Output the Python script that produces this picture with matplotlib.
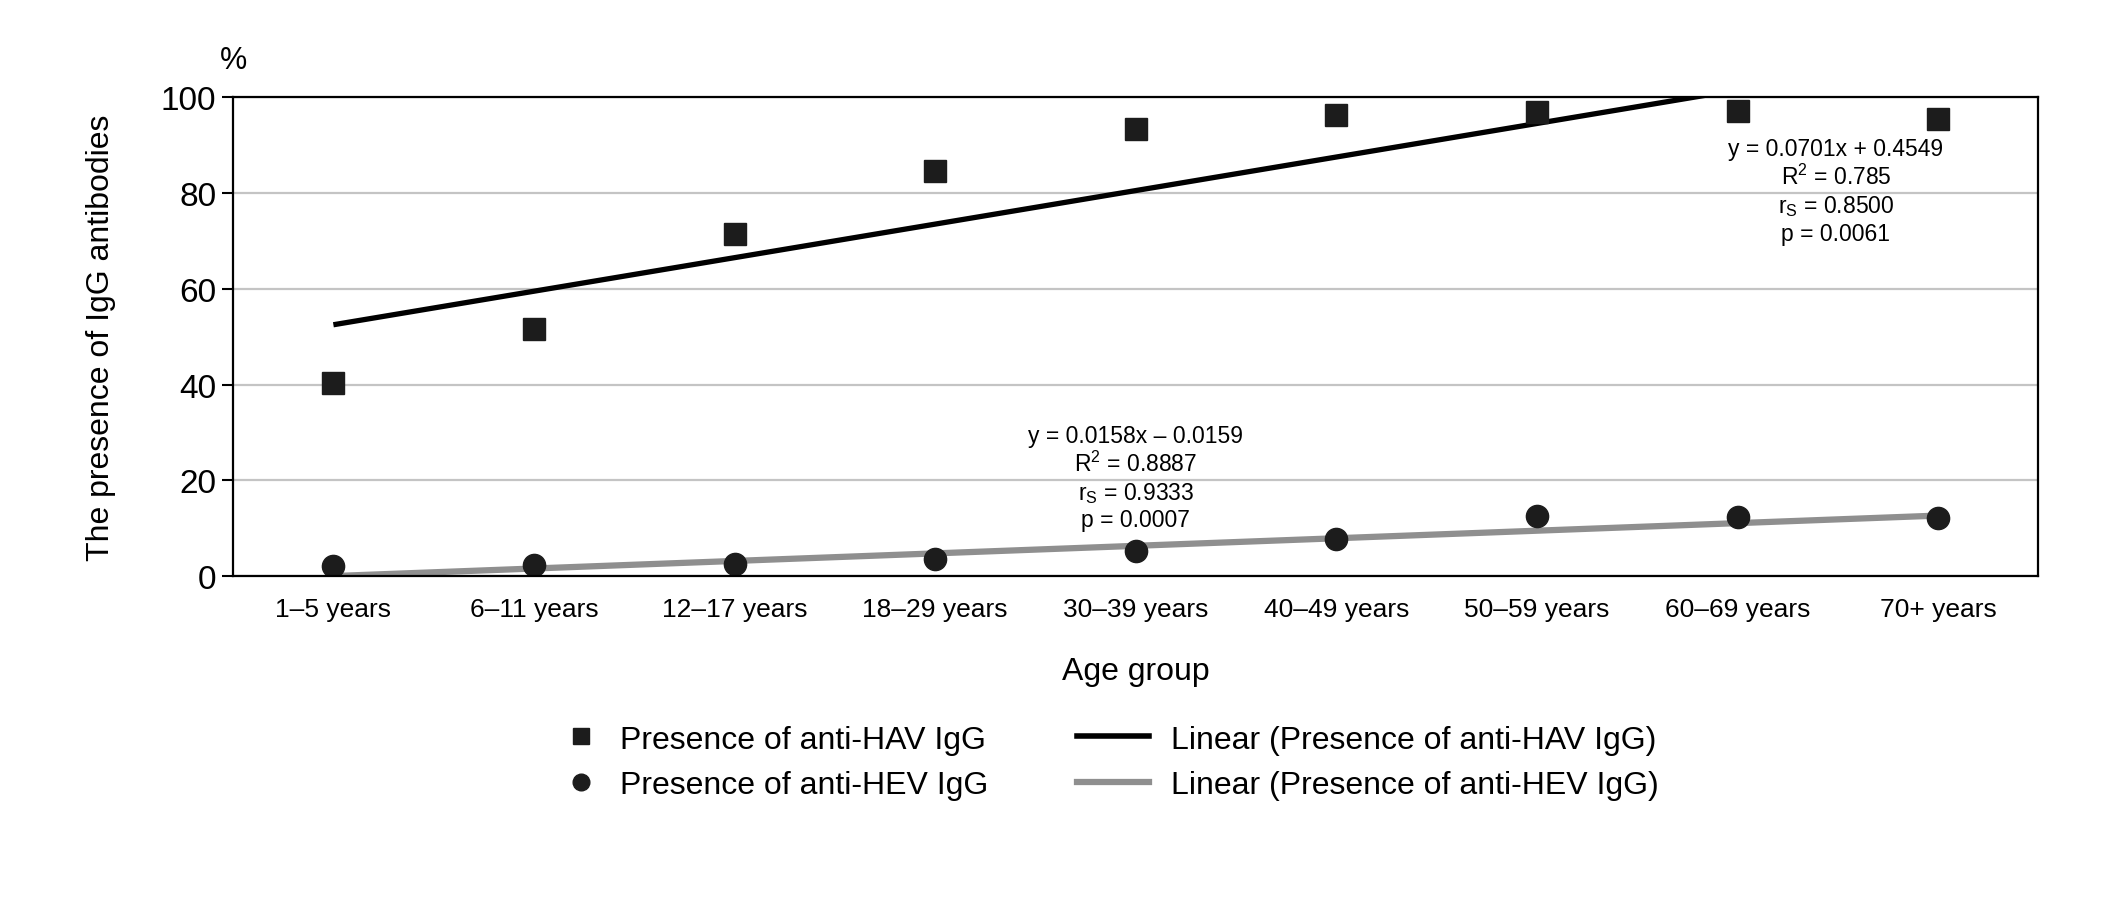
import numpy as np
import matplotlib.pyplot as plt
from matplotlib.lines import Line2D

plt.rcParams['font.family'] = ['Liberation Sans Narrow', 'Liberation Sans', 'DejaVu Sans']
plt.rcParams['mathtext.fontset'] = 'custom'
plt.rcParams['mathtext.rm'] = 'Liberation Sans'
plt.rcParams['mathtext.it'] = 'Liberation Sans'

age_groups = ['1–5 years', '6–11 years', '12–17 years', '18–29 years', '30–39 years',
              '40–49 years', '50–59 years', '60–69 years', '70+ years']
hav = [40.4, 51.7, 71.5, 84.7, 93.5, 96.3, 96.9, 97.2, 95.5]
hev = [2.0, 2.2, 2.5, 3.5, 5.2, 7.8, 12.6, 12.3, 12.2]
hav_fit = (0.0701, 0.4549)
hev_fit = (0.0158, -0.0159)

x = np.arange(len(age_groups))
xn = x + 1  # Excel trendline uses 1-based index

fig = plt.figure(figsize=(21.19, 9.03), dpi=100)
ax = fig.add_axes([0.110, 0.361, 0.852, 0.530])

ax.set_axisbelow(True)
ax.yaxis.grid(True, color='#c4c4c4', lw=1.6)

ax.plot(x, (hav_fit[0] * xn + hav_fit[1]) * 100, color='black', lw=3.8, solid_capstyle='butt')
ax.plot(x, (hev_fit[0] * xn + hev_fit[1]) * 100, color='#8f8f8f', lw=4.5, solid_capstyle='butt')
ax.plot(x, hav, 's', color='#1c1c1c', ms=16, ls='none')
ax.plot(x, hev, 'o', color='#1c1c1c', ms=16, ls='none')

ax.set_xlim(-0.5, len(age_groups) - 0.5)
ax.set_ylim(0, 100)
ax.set_yticks([0, 20, 40, 60, 80, 100])
ax.set_xticks(x)
ax.set_xticklabels(age_groups, fontsize=19)
ax.tick_params(axis='y', labelsize=24, length=8, width=1.5, pad=4)
ax.tick_params(axis='x', length=0, pad=15)
for s in ax.spines.values():
    s.set_linewidth(1.6)

ax.set_xlabel('Age group', fontsize=23, labelpad=25)
ax.set_ylabel('The presence of IgG antibodies', fontsize=23, labelpad=32)
fig.text(0.110, 0.932, '%', fontsize=22, ha='center', va='center')

ax.text(7.49, 80.5, 'y = 0.0701x + 0.4549\nR$^2$ = 0.785\nr$_\\mathrm{S}$ = 0.8500\np = 0.0061',
        fontsize=16.5, ha='center', va='center', linespacing=1.2)
ax.text(4.0, 20.6, 'y = 0.0158x – 0.0159\nR$^2$ = 0.8887\nr$_\\mathrm{S}$ = 0.9333\np = 0.0007',
        fontsize=16.5, ha='center', va='center', linespacing=1.2)

marker_handles = [
    Line2D([], [], marker='s', color='#1c1c1c', ls='none', ms=12),
    Line2D([], [], marker='o', color='#1c1c1c', ls='none', ms=12),
]
line_handles = [
    Line2D([], [], color='black', lw=4),
    Line2D([], [], color='#8f8f8f', lw=4.5),
]
common = dict(loc='center left', frameon=False, fontsize=23, borderpad=0,
              borderaxespad=0, labelspacing=0.5)
fig.legend(marker_handles, ['Presence of anti-HAV IgG', 'Presence of anti-HEV IgG'],
           bbox_to_anchor=(0.2653, 0.1545), handlelength=1.2, handletextpad=0.6, **common)
fig.legend(line_handles, ['Linear (Presence of anti-HAV IgG)', 'Linear (Presence of anti-HEV IgG)'],
           bbox_to_anchor=(0.5083, 0.1545), handlelength=2.25, handletextpad=0.68, **common)

fig.savefig('out.png', dpi=100)
